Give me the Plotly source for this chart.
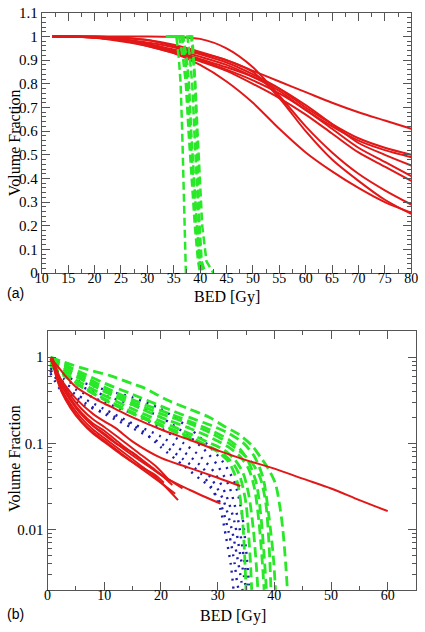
import plotly.graph_objects as go
import math

W, H = 425, 632

# ---------------- Panel (a) data ----------------
a_red_x = [12, 15, 20, 25, 30, 35, 40, 45, 50, 55, 60, 65, 70, 75, 80]
a_red_1 = [1.0, 1.0, 1.0, 0.995, 0.985, 0.965, 0.935, 0.90, 0.855, 0.81, 0.765, 0.72, 0.68, 0.645, 0.61]
a_red_2 = [1.0, 1.0, 1.0, 1.0, 1.0, 0.998, 0.99, 0.95, 0.87, 0.75, 0.62, 0.51, 0.42, 0.35, 0.29]
a_red_3 = [1.0, 1.0, 1.0, 0.995, 0.985, 0.96, 0.93, 0.90, 0.85, 0.74, 0.60, 0.48, 0.39, 0.31, 0.25]
a_red_4 = [1.0, 1.0, 0.995, 0.985, 0.96, 0.93, 0.88, 0.81, 0.72, 0.61, 0.51, 0.43, 0.36, 0.30, 0.255]
a_red_5 = [1.0, 1.0, 0.998, 0.99, 0.975, 0.955, 0.925, 0.89, 0.84, 0.78, 0.70, 0.63, 0.57, 0.53, 0.50]
a_red_6 = [1.0, 1.0, 0.997, 0.988, 0.97, 0.945, 0.915, 0.88, 0.83, 0.77, 0.69, 0.62, 0.56, 0.52, 0.49]
a_red_7 = [1.0, 1.0, 0.996, 0.985, 0.965, 0.94, 0.905, 0.87, 0.83, 0.78, 0.71, 0.63, 0.55, 0.50, 0.455]
a_red_8 = [1.0, 1.0, 0.996, 0.985, 0.965, 0.935, 0.90, 0.86, 0.815, 0.76, 0.69, 0.61, 0.53, 0.47, 0.41]
a_red_9 = [1.0, 1.0, 0.995, 0.98, 0.96, 0.93, 0.895, 0.855, 0.80, 0.74, 0.67, 0.59, 0.51, 0.45, 0.39]

a_green_y = [1.0, 1.0, 0.9, 0.8, 0.6, 0.4, 0.2, 0.05, 0.0]
a_green_1x = [33.5, 35.5, 36.0, 36.3, 36.6, 36.8, 37.0, 37.2, 37.3]
a_green_2x = [33.5, 36.0, 36.8, 37.3, 37.8, 38.4, 39.0, 39.6, 40.0]
a_green_3x = [34.0, 36.5, 37.2, 37.6, 38.1, 38.7, 39.3, 39.9, 40.4]
a_green_4x = [35.0, 37.6, 38.1, 38.5, 38.9, 39.3, 39.7, 40.1, 40.6]
a_green_5x = [35.5, 38.3, 38.7, 39.0, 39.3, 39.6, 39.9, 40.3, 41.0]
a_green_6x = [35.5, 38.5, 38.8, 39.1, 39.5, 39.9, 40.4, 41.2, 42.5]
a_green_7x = [34.0, 36.8, 37.5, 37.9, 38.3, 38.8, 39.4, 39.9, 40.2]

# ---------------- Panel (b) data ----------------
b_red_1x = [0.5, 1, 2, 3, 5, 8, 10, 12, 15, 20, 25, 30, 35, 40, 45, 50, 55, 60]
b_red_1y = [1.0, 0.9, 0.75, 0.62, 0.45, 0.34, 0.29, 0.25, 0.2, 0.145, 0.11, 0.083, 0.064, 0.051, 0.039, 0.03, 0.022, 0.0164]
b_red_2x = [0.5, 1, 2, 3, 5, 8, 10, 12, 15, 20, 25, 30, 34]
b_red_2y = [0.95, 0.85, 0.6, 0.48, 0.33, 0.22, 0.18, 0.15, 0.105, 0.068, 0.052, 0.04, 0.032]
b_red_3x = [0.5, 1, 2, 3, 5, 8, 10, 12, 15, 20, 25, 30.5]
b_red_3y = [0.95, 0.8, 0.55, 0.42, 0.26, 0.16, 0.125, 0.1, 0.078, 0.043, 0.029, 0.02]
b_red_bx = [0.8, 1.5, 2.5, 4, 6, 8, 10, 13, 16, 19]
b_red_4x = b_red_bx + [21.5]
b_red_4y = [1.0, 0.74, 0.52, 0.36, 0.25, 0.19, 0.155, 0.11, 0.078, 0.055, 0.037]
b_red_5x = b_red_bx + [22]
b_red_5y = [0.98, 0.7, 0.48, 0.33, 0.225, 0.17, 0.14, 0.097, 0.069, 0.049, 0.033]
b_red_6x = b_red_bx + [23.8]
b_red_6y = [0.95, 0.67, 0.46, 0.32, 0.215, 0.16, 0.13, 0.09, 0.065, 0.048, 0.03]
b_red_7x = b_red_bx + [23]
b_red_7y = [0.93, 0.64, 0.42, 0.29, 0.195, 0.145, 0.115, 0.082, 0.058, 0.041, 0.022]
b_red_8x = b_red_bx + [22.5]
b_red_8y = [0.96, 0.62, 0.40, 0.27, 0.18, 0.135, 0.108, 0.076, 0.054, 0.039, 0.026]
b_red_9x = b_red_bx + [20.5]
b_red_9y = [0.90, 0.60, 0.39, 0.26, 0.175, 0.13, 0.104, 0.074, 0.055, 0.043, 0.035]

b_green_1x = [0.5, 3, 6, 11, 15, 17, 21, 25, 28.6, 31, 33.7, 36, 37.5, 39, 40.2, 41, 41.5, 42, 42.3]
b_green_1y = [1.0, 0.87, 0.75, 0.61, 0.49, 0.44, 0.32, 0.25, 0.2, 0.16, 0.128, 0.095, 0.07, 0.05, 0.034, 0.018, 0.01, 0.004, 0.002]
b_green_2x = [0.5, 3, 6, 10, 15, 20, 25, 29, 32, 34, 35.5, 36.8, 37.6, 38.2, 38.6]
b_green_2y = [0.95, 0.8, 0.62, 0.45, 0.32, 0.24, 0.18, 0.14, 0.11, 0.085, 0.06, 0.035, 0.015, 0.005, 0.002]
b_green_3x = [0.5, 3, 6, 10, 15, 20, 25, 29, 32, 34, 35.5, 36.5, 37.3, 37.9, 38.2]
b_green_3y = [0.9, 0.7, 0.55, 0.4, 0.28, 0.2, 0.15, 0.115, 0.09, 0.07, 0.05, 0.03, 0.012, 0.004, 0.002]
b_green_4x = [0.5, 3, 6, 10, 15, 20, 25, 29, 32, 34, 36, 37.5, 38.5, 39.1, 39.4]
b_green_4y = [0.92, 0.75, 0.58, 0.42, 0.3, 0.22, 0.17, 0.13, 0.1, 0.08, 0.06, 0.04, 0.02, 0.006, 0.002]
b_green_5x = [0.5, 3, 6, 10, 15, 20, 25, 28, 31, 33, 34.5, 35.5, 36.3, 36.8, 37.1]
b_green_5y = [0.85, 0.65, 0.5, 0.36, 0.25, 0.18, 0.13, 0.105, 0.085, 0.065, 0.045, 0.025, 0.01, 0.004, 0.002]
b_green_6x = [0.5, 3, 6, 10, 15, 20, 25, 28, 31, 33, 34, 35, 35.5, 35.8, 36]
b_green_6y = [0.8, 0.6, 0.45, 0.32, 0.22, 0.16, 0.115, 0.095, 0.075, 0.055, 0.04, 0.02, 0.008, 0.004, 0.002]
b_green_7x = [0.5, 3, 6, 10, 15, 20, 25, 28, 30, 32, 33.5, 34.3, 34.7, 35]
b_green_7y = [0.85, 0.62, 0.46, 0.33, 0.23, 0.165, 0.12, 0.095, 0.08, 0.06, 0.035, 0.015, 0.006, 0.002]
b_green_8x = [0.5, 3, 6, 10, 15, 20, 25, 29, 32, 34.6, 36.5, 38, 39, 39.8, 40.2]
b_green_8y = [0.97, 0.82, 0.66, 0.5, 0.37, 0.27, 0.2, 0.16, 0.13, 0.1, 0.07, 0.04, 0.015, 0.005, 0.002]

b_blue_1x = [0.5, 3, 5, 10, 15, 20, 25, 28, 31, 33, 34.3, 35, 35.4, 35.7]
b_blue_1y = [0.8, 0.6, 0.54, 0.42, 0.34, 0.25, 0.15, 0.1, 0.06, 0.035, 0.015, 0.006, 0.003, 0.002]
b_blue_2x = [0.5, 3, 5, 10, 15, 20, 25, 28, 30, 32, 33.5, 34.4, 35, 35.3]
b_blue_2y = [0.75, 0.55, 0.48, 0.36, 0.28, 0.2, 0.12, 0.08, 0.055, 0.032, 0.014, 0.006, 0.003, 0.002]
b_blue_3x = [0.5, 3, 5, 10, 15, 20, 24, 27, 29.5, 31.5, 33, 34, 34.6, 35]
b_blue_3y = [0.72, 0.5, 0.42, 0.3, 0.22, 0.15, 0.1, 0.07, 0.045, 0.025, 0.012, 0.005, 0.003, 0.002]
b_blue_4x = [0.5, 3, 5, 10, 15, 20, 24, 27, 29, 31, 32.5, 33.4, 34, 34.4]
b_blue_4y = [0.7, 0.45, 0.37, 0.25, 0.17, 0.12, 0.08, 0.055, 0.038, 0.022, 0.01, 0.005, 0.003, 0.002]
b_blue_5x = [0.5, 3, 5, 11, 16.7, 20, 24, 27, 28.6, 30.5, 32, 33, 33.4, 33.7]
b_blue_5y = [0.65, 0.36, 0.3, 0.215, 0.14, 0.09, 0.055, 0.038, 0.0316, 0.02, 0.009, 0.004, 0.0025, 0.002]
b_blue_6x = [0.5, 3, 5, 10, 15, 20, 24, 27, 29, 30.5, 31.5, 32.3, 32.8]
b_blue_6y = [0.7, 0.42, 0.34, 0.22, 0.15, 0.1, 0.065, 0.045, 0.03, 0.017, 0.008, 0.004, 0.002]

# tick definitions
a_x_ticks = list(range(10, 85, 5))
a_y_ticks = [round(0.1 * i, 1) for i in range(0, 12)]
b_x_ticks = [0, 10, 20, 30, 40, 50, 60]
b_y_ticks = [0.01, 0.1, 1]
b_y_ticktext = ["0.01", "0.1", "1"]
b_y_minor = [m * d for d in (0.001, 0.01, 0.1, 1) for m in range(2, 10) if 0.002 <= m * d <= 2]

RED = "rgb(226,24,24)"
GREEN = "rgb(40,232,40)"
BLUE = "rgb(30,30,170)"
SERIF = "Liberation Serif, Times New Roman, serif"
SANS = "Liberation Sans, Arial, sans-serif"

fig = go.Figure()

def add(x, y, color, dash, width, xa, ya, shape="spline"):
    fig.add_trace(go.Scatter(x=x, y=y, mode="lines", xaxis=xa, yaxis=ya,
                             line=dict(color=color, width=width, dash=dash, shape=shape, smoothing=0.8),
                             showlegend=False, hoverinfo="skip"))

# Panel (a)
for ys in [a_red_1, a_red_2, a_red_3, a_red_4, a_red_5, a_red_6, a_red_7, a_red_8, a_red_9]:
    add(a_red_x, ys, RED, "solid", 2, "x", "y")
for xs in [a_green_1x, a_green_2x, a_green_3x, a_green_4x, a_green_5x, a_green_6x, a_green_7x]:
    add(xs, a_green_y, GREEN, "8px,4px", 2.5, "x", "y", shape="linear")

# Panel (b)
for xs, ys in [(b_blue_1x, b_blue_1y), (b_blue_2x, b_blue_2y), (b_blue_3x, b_blue_3y),
               (b_blue_4x, b_blue_4y), (b_blue_5x, b_blue_5y), (b_blue_6x, b_blue_6y)]:
    add(xs, ys, BLUE, "2px,6px", 2.4, "x2", "y2")
for xs, ys in [(b_green_1x, b_green_1y), (b_green_2x, b_green_2y), (b_green_3x, b_green_3y),
               (b_green_4x, b_green_4y), (b_green_5x, b_green_5y), (b_green_6x, b_green_6y),
               (b_green_7x, b_green_7y), (b_green_8x, b_green_8y)]:
    add(xs, ys, GREEN, "10px,5px", 2.8, "x2", "y2")
for xs, ys in [(b_red_1x, b_red_1y), (b_red_2x, b_red_2y), (b_red_3x, b_red_3y),
               (b_red_4x, b_red_4y), (b_red_5x, b_red_5y), (b_red_6x, b_red_6y),
               (b_red_7x, b_red_7y), (b_red_8x, b_red_8y), (b_red_9x, b_red_9y)]:
    add(xs, ys, RED, "solid", 2, "x2", "y2")

axis_common = dict(showline=True, linecolor="#555", linewidth=1, mirror="allticks",
                   ticks="inside", tickcolor="#555", ticklen=8, tickwidth=1,
                   showgrid=False, zeroline=False, ticklabeloverflow="allow")
yfont = dict(family=SERIF, size=15, color="black")
xfont = dict(family=SERIF, size=14, color="black")

fig.update_layout(
    width=W, height=H, margin=dict(l=0, r=0, t=0, b=0),
    font=dict(family=SERIF, size=15, color="black"),
    paper_bgcolor="white", plot_bgcolor="white", showlegend=False,
    xaxis=dict(domain=[36 / W, 418 / W], range=[10, 80], anchor="y",
               tickvals=a_x_ticks, ticklabelstandoff=-8, tickfont=xfont,
               minor=dict(ticks="inside", ticklen=4, dtick=2.5, tick0=10, tickcolor="#555", showgrid=False),
               **axis_common),
    yaxis=dict(domain=[1 - 272 / H, 1 - 5 / H], range=[0, 1.1], anchor="x",
               tickvals=a_y_ticks, tickfont=yfont,
               minor=dict(ticks="inside", ticklen=4, dtick=0.02, tick0=0, tickcolor="#555", showgrid=False),
               **axis_common),
    xaxis2=dict(domain=[42 / W, 423 / W], range=[0, 65], anchor="y2",
                tickvals=b_x_ticks, ticklabelstandoff=-8, tickfont=xfont,
                minor=dict(ticks="inside", ticklen=4, dtick=5, tick0=0, tickcolor="#555", showgrid=False),
                **axis_common),
    yaxis2=dict(domain=[1 - 597 / H, 1 - 331 / H], type="log",
                range=[math.log10(0.002), math.log10(2.03)], anchor="x2",
                tickvals=b_y_ticks, ticktext=b_y_ticktext, tickfont=yfont,
                minor=dict(ticks="inside", ticklen=4, tickvals=b_y_minor, tickcolor="#555", showgrid=False),
                **axis_common),
)

def ann(text, px, py, size=16, family=SERIF, angle=0):
    fig.add_annotation(text=text, x=px / W, y=1 - py / H, xref="paper", yref="paper",
                       showarrow=False, textangle=angle, xanchor="center", yanchor="middle",
                       font=dict(family=family, size=size, color="black"))

ann("BED [Gy]", 228, 297, size=16)
ann("BED [Gy]", 234, 624, size=16)
ann("Volume Fraction", 8, 138, angle=-90)
ann("Volume Fraction", 8, 462, angle=-90)
ann("(a)", 9, 292, size=14, family=SANS)
ann("(b)", 9, 622, size=14, family=SANS)

fig.write_html("out.html", config={"displayModeBar": False},
               post_script="document.body.style.margin='0';document.body.style.overflow='hidden';")
